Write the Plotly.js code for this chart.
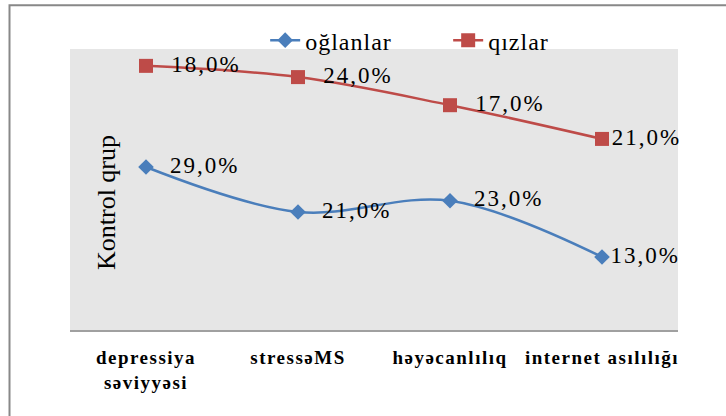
<!DOCTYPE html>
<html>
<head>
<meta charset="utf-8">
<script src="https://cdn.plot.ly/plotly-3.0.1.min.js"></script>
<style>
  html, body { margin: 0; padding: 0; background: #ffffff; }
  #chart { width: 726px; height: 416px; }
  /* slightly airy lettering for labels */
  #chart .textpoint text { letter-spacing: 2px; }
  #chart .xtick text { letter-spacing: 1.5px; }
  #chart .legendtext { letter-spacing: 1px; }
</style>
</head>
<body>
<div id="chart"></div>
<script>
// Categories along the x axis
const categories = ["depressiya<br>səviyyəsi", "stressəMS", "həyəcanlılıq", "internet asılılığı"];

// Percent values per group (control group)
const boys = [29, 21, 23, 13];   // oğlanlar
const girls = [18, 24, 17, 21];  // qızlar

const fmt = v => v.toFixed(1).replace(".", ",") + "%";
// labels sit a little away from their marker, except at the right edge
const pad = (s, i, arr) => (i < arr.length - 1 ? "\u00a0\u00a0" : "") + s;
const serif = "Liberation Serif";

const traces = [
  {
    name: "oğlanlar",
    x: categories,
    y: boys,
    stackgroup: "g",
    fill: "none",
    mode: "lines+markers+text",
    line: { color: "#4A7EBB", width: 2.5, shape: "spline" },
    marker: { symbol: "diamond", size: 12, color: "#4A7EBB" },
    text: boys.map(fmt).map(pad),
    textposition: "middle right",
    textfont: { family: serif, size: 23, color: "#000000" },
    cliponaxis: false,
    hoverinfo: "skip"
  },
  {
    name: "qızlar",
    x: categories,
    y: girls,
    stackgroup: "g",
    fill: "none",
    mode: "lines+markers+text",
    line: { color: "#BE4B48", width: 2.5, shape: "spline" },
    marker: { symbol: "square", size: 14, color: "#BE4B48" },
    text: girls.map(fmt).map(pad),
    textposition: "middle right",
    textfont: { family: serif, size: 23, color: "#000000" },
    cliponaxis: false,
    hoverinfo: "skip"
  }
];

const layout = {
  width: 726,
  height: 416,
  margin: { l: 70, r: 48, t: 49, b: 86 },
  paper_bgcolor: "#ffffff",
  plot_bgcolor: "#E6E6E6",
  font: { family: serif },
  showlegend: true,
  legend: {
    orientation: "h",
    traceorder: "normal",
    x: 0.321,
    xanchor: "left",
    y: 1.03,
    yanchor: "middle",
    bgcolor: "rgba(0,0,0,0)",
    font: { family: serif, size: 24, color: "#000000" },
    entrywidth: 138
  },
  xaxis: {
    type: "category",
    range: [-0.5, 3.5],
    showgrid: false,
    zeroline: false,
    showline: true,
    linecolor: "#A0A0A0",
    linewidth: 1.5,
    ticks: "",
    ticklabelstandoff: 10,
    tickfont: { family: serif, size: 19, color: "#000000", weight: "bold" },
    fixedrange: true
  },
  yaxis: {
    range: [0, 50],
    showgrid: false,
    zeroline: false,
    showticklabels: false,
    showline: false,
    ticks: "",
    fixedrange: true
  },
  annotations: [
    {
      text: "Kontrol qrup",
      xref: "paper", yref: "paper",
      x: 0.059, y: 0.455,
      xanchor: "center", yanchor: "middle",
      textangle: -90,
      showarrow: false,
      font: { family: serif, size: 26, color: "#000000" }
    }
  ],
  shapes: [
    {
      type: "rect",
      xref: "paper", yref: "paper",
      x0: -0.0995, x1: 1.25,
      y0: -0.4, y1: 1.156,
      line: { color: "#888888", width: 2 },
      fillcolor: "rgba(0,0,0,0)",
      layer: "below"
    }
  ]
};

Plotly.newPlot("chart", traces, layout, { displayModeBar: false, staticPlot: true });
</script>
</body>
</html>
